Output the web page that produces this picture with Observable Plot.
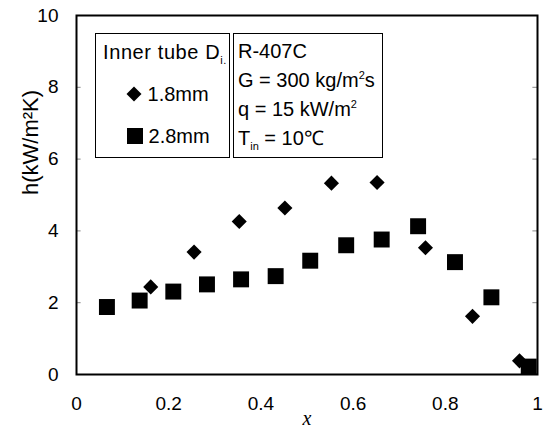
<!DOCTYPE html>
<html><head><meta charset="utf-8">
<script src="https://cdn.jsdelivr.net/npm/d3@7"></script>
<script src="https://cdn.jsdelivr.net/npm/@observablehq/plot@0.6"></script>
<style>
body{margin:0;background:#fff;}
#wrap{position:relative;width:544px;height:432px;font-family:"Liberation Sans",Arial,sans-serif;}
.box{position:absolute;border:1.3px solid #000;background:#fff;font-size:20px;color:#000;line-height:1;}
.box div{position:absolute;white-space:nowrap;}
sub,sup{font-size:11px;line-height:0;}
</style>
</head><body>
<div id="wrap"></div>
<script>
const x18 = [0.161, 0.255, 0.353, 0.452, 0.553, 0.652, 0.757, 0.859, 0.961];
const h18 = [2.44, 3.41, 4.26, 4.64, 5.33, 5.35, 3.53, 1.62, 0.38];
const x28 = [0.066, 0.137, 0.210, 0.283, 0.357, 0.432, 0.507, 0.585, 0.662, 0.741, 0.821, 0.900, 0.981];
const h28 = [1.88, 2.06, 2.31, 2.51, 2.65, 2.74, 3.17, 3.60, 3.76, 4.13, 3.13, 2.15, 0.22];
const xTicks = [0, 0.2, 0.4, 0.6, 0.8, 1];
const yTicks = [0, 2, 4, 6, 8, 10];

const d18 = x18.map((v,i)=>({x:v,h:h18[i]}));
const d28 = x28.map((v,i)=>({x:v,h:h28[i]}));

const chart = Plot.plot({
  width: 544, height: 432,
  marginLeft: 76, marginRight: 7, marginTop: 15, marginBottom: 58,
  style: {fontFamily: '"Liberation Sans", Arial, sans-serif', fontSize: "19px", color: "#000", background: "#fff"},
  x: {domain: [0, 1]},
  y: {domain: [0, 10]},
  marks: [
    Plot.axisX({ticks: xTicks, tickFormat: d => d === 0 || d === 1 ? String(d) : d.toFixed(1), tickSize: 0, tickPadding: 22, label: null, fontSize: 19}),
    Plot.axisY({ticks: yTicks, tickSize: 0, tickPadding: 18, label: null, fontSize: 19}),
    Plot.ruleY(yTicks, {y: d => d, x1: 0, x2: 0.01, stroke: "#888", strokeWidth: 1}),
    Plot.ruleY(yTicks, {y: d => d, x1: 0.99, x2: 1, stroke: "#888", strokeWidth: 1}),
    Plot.dot(d28, {x: "x", y: "h", symbol: "square", r: 9, fill: "#000", stroke: "none", clip: true}),
    Plot.dot(d18, {x: "x", y: "h", symbol: "diamond2", r: 6.8, fill: "#000", stroke: "none", clip: true}),
    Plot.frame({stroke: "#000", strokeWidth: 2}),
    Plot.text(["x"], {frameAnchor: "bottom", lineAnchor: "middle", dy: 44, fontFamily: '"Liberation Serif", serif', fontStyle: "italic", fontSize: 20}),
    Plot.text(["h(kW/m²K)"], {frameAnchor: "left", dx: -46, rotate: -90, fontSize: 22})
  ]
});
const wrap = document.getElementById("wrap");
wrap.appendChild(chart);

const legendSeries = ["1.8mm", "2.8mm"];
const conditions = ["R-407C", "G = 300 kg/m<sup>2</sup>s", "q = 15 kW/m<sup>2</sup>", "T<sub>in</sub> = 10℃"];

const b1 = document.createElement("div");
b1.className = "box";
b1.style.cssText = "left:95px;top:33px;width:133px;height:123px;";
b1.innerHTML = `<div style="left:7px;top:8px;letter-spacing:0.6px">Inner tube D<sub>i.</sub></div>
<div style="left:30px;top:50px"><svg width="16" height="16" style="vertical-align:-1px"><path d="M8 0.5L15.5 8L8 15.5L0.5 8Z"/></svg> ${legendSeries[0]}</div>
<div style="left:31px;top:92px"><svg width="16" height="16" style="vertical-align:-1px"><rect x="0" y="0" width="16" height="16"/></svg> ${legendSeries[1]}</div>`;
wrap.appendChild(b1);

const b2 = document.createElement("div");
b2.className = "box";
b2.style.cssText = "left:233px;top:33px;width:148px;height:123px;";
b2.innerHTML = conditions.map((t,i)=>`<div style="left:4px;top:${7+i*29}px">${t}</div>`).join("");
wrap.appendChild(b2);
</script>
</body></html>
